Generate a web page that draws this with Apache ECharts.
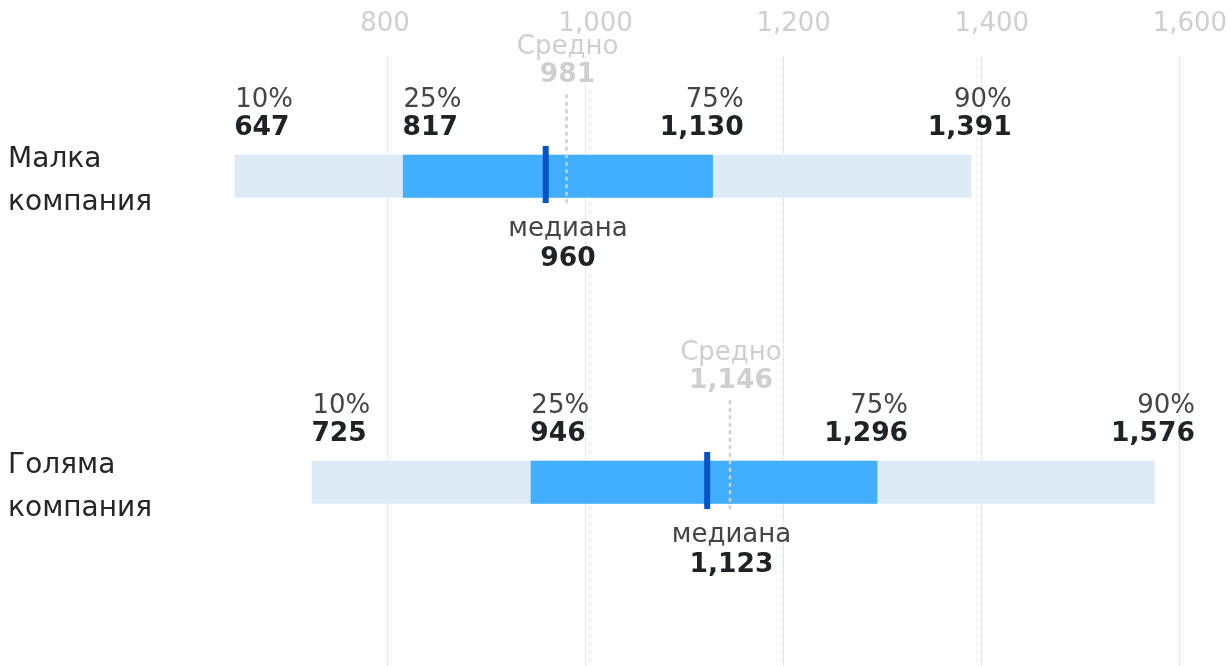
<!DOCTYPE html>
<html>
<head>
<meta charset="utf-8">
<script src="https://cdn.jsdelivr.net/npm/echarts@6/dist/echarts.min.js"></script>
<style>
html,body{margin:0;padding:0;background:#fff;}
#chart{width:1231px;height:666px;}
</style>
</head>
<body>
<div id="chart"></div>
<script>
const categories = ['Малка компания', 'Голяма компания'];
const p10 = [647, 725];
const p25 = [817, 946];
const median = [960, 1123];
const p75 = [1130, 1296];
const p90 = [1391, 1576];
const mean = [981, 1146];
const pctLabels = ['10%', '25%', '75%', '90%'];
const medianLabel = 'медиана';
const meanLabel = 'Средно';
const axisMin = 600, axisMax = 1600, axisStep = 200;

const FONT = '"DejaVu Sans", sans-serif';
const fmt = v => Number(v).toLocaleString('en-US');
const rows = categories.map((c, i) => [i, p10[i], p25[i], median[i], p75[i], p90[i], mean[i]]);

function txt(text, x, baseline, opts) {
  return {
    type: 'text',
    style: {
      text: text, x: x, y: baseline - 7.5,
      fill: opts.fill, align: opts.align || 'left', verticalAlign: 'middle',
      font: (opts.bold ? 'bold 26.5px ' : '26px ') + FONT
    }
  };
}

function renderItem(params, api) {
  const i = api.value(0);
  const v10 = api.value(1), v25 = api.value(2), v50 = api.value(3), v75 = api.value(4), v90 = api.value(5), vm = api.value(6);
  const c = api.coord([v10, i])[1];
  const x10 = api.coord([v10, i])[0];
  const x25 = api.coord([v25, i])[0];
  const x50 = api.coord([v50, i])[0];
  const x75 = api.coord([v75, i])[0];
  const x90 = api.coord([v90, i])[0];
  const xm = api.coord([vm, i])[0];
  const h = 43;
  const labelCol = '#454545', valCol = '#202326', meanCol = '#cfcfcf';
  return {
    type: 'group',
    children: [
      { type: 'rect', shape: { x: x10 - 1.2, y: c - h / 2, width: x90 - x10, height: h }, style: { fill: '#dcebf6' } },
      { type: 'rect', shape: { x: x25 - 1.2, y: c - h / 2, width: x75 - x25, height: h }, style: { fill: '#41aeff' } },
      { type: 'line', shape: { x1: xm, y1: c - 82, x2: xm, y2: c + 29 }, style: { stroke: '#cfcfcf', lineWidth: 2.5, lineDash: [4, 3.5] } },
      { type: 'rect', shape: { x: x50 - 3, y: c - 30.3, width: 6, height: 57 }, style: { fill: '#0652c9' } },
      txt(pctLabels[0], x10 - 0.5, c - 68.6, { fill: labelCol }),
      txt(fmt(v10), x10 - 1.5, c - 40.3, { fill: valCol, bold: true }),
      txt(pctLabels[1], x25 - 0.5, c - 68.6, { fill: labelCol }),
      txt(fmt(v25), x25 - 1.5, c - 40.3, { fill: valCol, bold: true }),
      txt(pctLabels[2], x75 + 29.5, c - 68.6, { fill: labelCol, align: 'right' }),
      txt(fmt(v75), x75 + 29.5, c - 40.3, { fill: valCol, bold: true, align: 'right' }),
      txt(pctLabels[3], x90 + 39, c - 68.6, { fill: labelCol, align: 'right' }),
      txt(fmt(v90), x90 + 39, c - 40.3, { fill: valCol, bold: true, align: 'right' }),
      txt(meanLabel, xm + 1, c - 122, { fill: meanCol, align: 'center' }),
      txt(fmt(vm), xm + 1, c - 94, { fill: meanCol, bold: true, align: 'center' }),
      txt(medianLabel, xm + 1.5, c + 60.4, { fill: labelCol, align: 'center' }),
      txt(fmt(v50), xm + 1.5, c + 90.4, { fill: valCol, bold: true, align: 'center' })
    ]
  };
}

const splitColors = [];
for (let v = axisMin; v <= axisMax; v += axisStep) splitColors.push(v === axisMin ? 'rgba(0,0,0,0)' : '#d2d2d2');

const chart = echarts.init(document.getElementById('chart'), null, { renderer: 'canvas' });
chart.setOption({
  animation: false,
  backgroundColor: '#fff',
  textStyle: { fontFamily: FONT },
  grid: [
    { left: 189.1, right: 51.3, top: 23.3, bottom: 30.7, outerBoundsMode: 'none', containLabel: false },
    { left: 189.1, right: 51.3, top: 57, bottom: 0, outerBoundsMode: 'none', containLabel: false }
  ],
  xAxis: [
    { type: 'value', gridIndex: 0, min: axisMin, max: axisMax, interval: axisStep, show: false },
    {
      type: 'value', gridIndex: 1, position: 'top', min: axisMin, max: axisMax, interval: axisStep,
      axisLine: { show: false }, axisTick: { show: false },
      axisLabel: {
        show: true, showMinLabel: false, margin: 20, fontSize: 26, color: '#cfcfcf', fontFamily: FONT,
        align: 'left', padding: [0, 0, 0, -27], formatter: v => fmt(v)
      },
      splitLine: { show: true, lineStyle: { color: splitColors, type: 'dotted', width: 1 } }
    }
  ],
  yAxis: [
    {
      type: 'category', gridIndex: 0, data: categories, inverse: true,
      axisLine: { show: false }, axisTick: { show: false }, splitLine: { show: false },
      axisLabel: {
        align: 'left', margin: 181, fontSize: 28, lineHeight: 43, color: '#262626', fontFamily: FONT,
        formatter: v => '{s| }\n' + v.split(' ').map(w => '{n|' + w + '}').join('\n'),
        rich: {
          s: { fontSize: 1, lineHeight: 10 },
          n: { fontSize: 28, lineHeight: 43, color: '#262626', fontFamily: FONT }
        }
      }
    },
    { type: 'value', gridIndex: 1, show: false, min: 0, max: 1 }
  ],
  series: [{
    type: 'custom',
    xAxisIndex: 0, yAxisIndex: 0,
    silent: true,
    renderItem: renderItem,
    dimensions: ['row', 'p10', 'p25', 'median', 'p75', 'p90', 'mean'],
    encode: { y: 0, x: [1, 2, 3, 4, 5, 6] },
    data: rows
  }]
});
</script>
</body>
</html>
